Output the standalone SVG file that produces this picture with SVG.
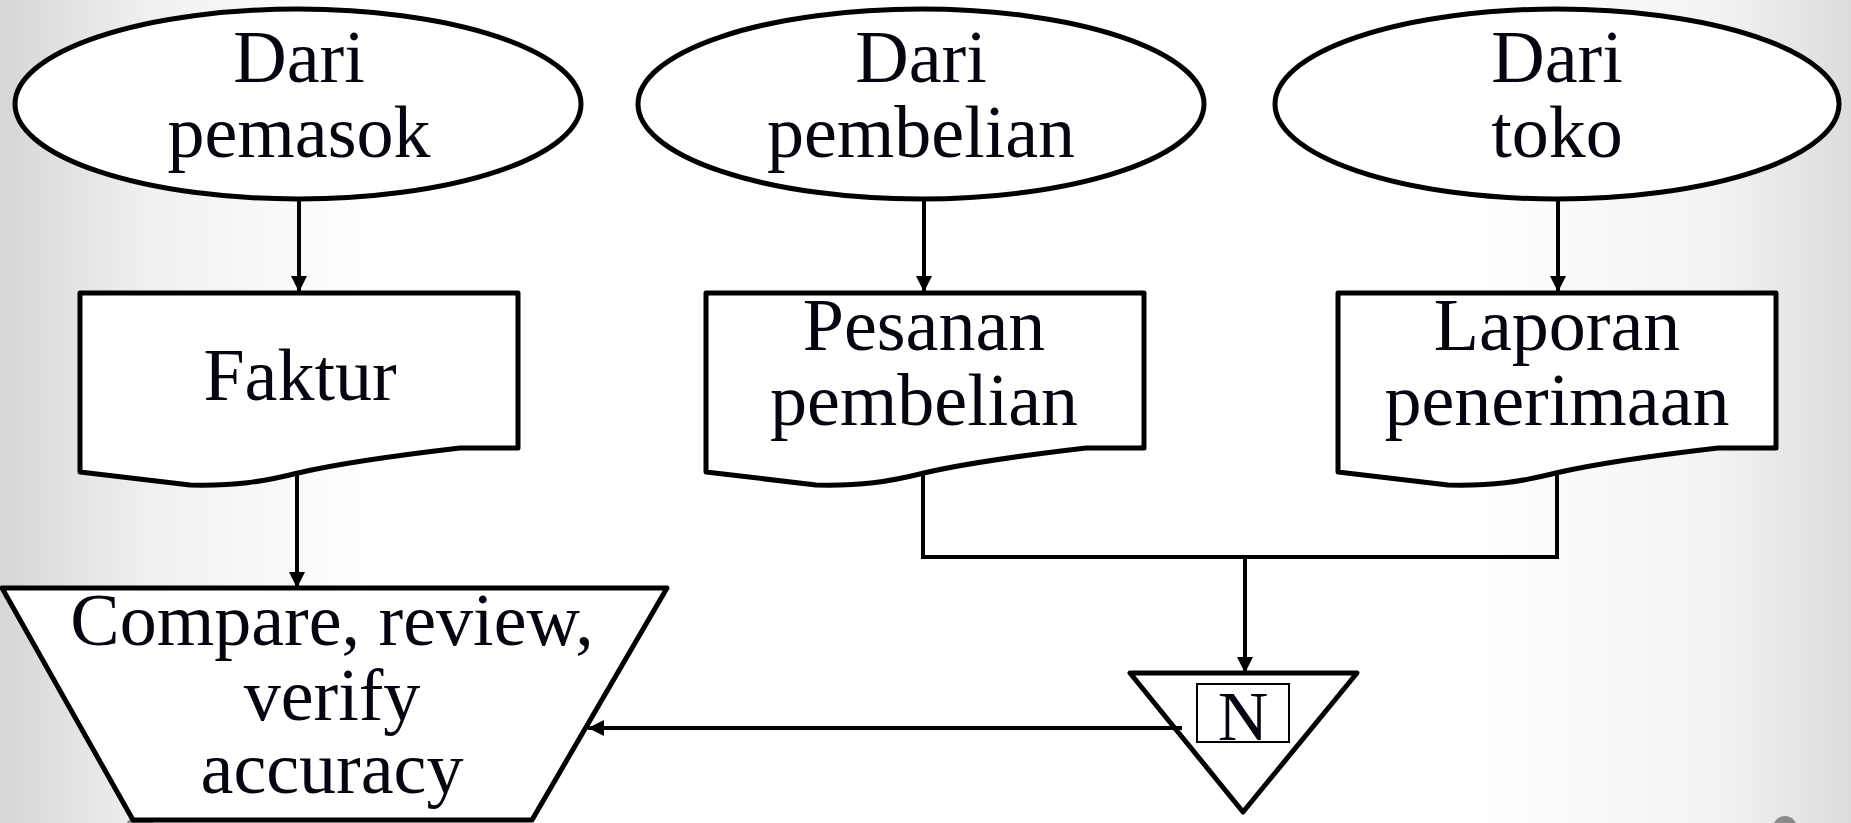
<svg xmlns="http://www.w3.org/2000/svg" width="1851" height="823" viewBox="0 0 1851 823">
<defs>
<linearGradient id="bg" x1="0" y1="0" x2="1" y2="0">
<stop offset="0" stop-color="#d6d6d6"/>
<stop offset="0.08" stop-color="#f0f0f0"/>
<stop offset="0.2" stop-color="#ffffff"/>
<stop offset="0.8" stop-color="#ffffff"/>
<stop offset="0.93" stop-color="#f2f2f2"/>
<stop offset="1" stop-color="#dcdcdc"/>
</linearGradient>
<marker id="arr" markerUnits="userSpaceOnUse" markerWidth="18" markerHeight="18" refX="16" refY="8" orient="auto">
<path d="M0,0 L16,8 L0,16 Z" fill="#000"/>
</marker>
<style>
.shape{fill:#fff;stroke:#000;stroke-width:5;stroke-linejoin:round}
.conn{fill:none;stroke:#000;stroke-width:4}
.lbl{font-family:"Liberation Serif","Times New Roman",serif;font-size:74px;fill:#050510;text-anchor:middle}
</style>
</defs>
<rect width="1851" height="823" fill="url(#bg)"/>
<circle cx="140" cy="830" r="15" fill="#8a8a8a"/>
<circle cx="1785" cy="828" r="12" fill="#8a8a8a"/>

<g id="src-pemasok">
<ellipse class="shape" cx="298" cy="104" rx="283" ry="95"/>
<text class="lbl"><tspan x="299" y="82">Dari</tspan><tspan x="299" y="157">pemasok</tspan></text>
</g>
<g id="src-pembelian">
<ellipse class="shape" cx="921" cy="104" rx="283" ry="95"/>
<text class="lbl"><tspan x="921" y="82">Dari</tspan><tspan x="921" y="157">pembelian</tspan></text>
</g>
<g id="src-toko">
<ellipse class="shape" cx="1557" cy="104" rx="282" ry="95"/>
<text class="lbl"><tspan x="1557" y="82">Dari</tspan><tspan x="1557" y="157">toko</tspan></text>
</g>

<g id="doc-faktur">
<path class="shape" d="M80,293 H518 V448 H460 C400,455 340,463 298,473 C262,482 235,486 190,485 L80,472 Z"/>
<text class="lbl" x="300" y="400">Faktur</text>
</g>
<g id="doc-pesanan">
<path class="shape" d="M706,293 H1144 V448 H1086 C1026,455 966,463 924,473 C888,482 861,486 816,485 L706,472 Z"/>
<text class="lbl"><tspan x="924" y="350">Pesanan</tspan><tspan x="924" y="425">pembelian</tspan></text>
</g>
<g id="doc-laporan">
<path class="shape" d="M1338,293 H1776 V448 H1718 C1658,455 1598,463 1556,473 C1520,482 1493,486 1448,485 L1338,472 Z"/>
<text class="lbl"><tspan x="1557" y="350">Laporan</tspan><tspan x="1557" y="425">penerimaan</tspan></text>
</g>

<g id="process-compare">
<polygon class="shape" points="2,588 667,588 532,820 133,820"/>
<text class="lbl"><tspan x="332" y="645">Compare, review,</tspan><tspan x="332" y="720">verify</tspan><tspan x="332" y="793">accuracy</tspan></text>
</g>

<g id="file-n">
<polygon class="shape" points="1130,673 1357,673 1243,812"/>
<rect x="1197" y="684" width="92" height="58" fill="none" stroke="#000" stroke-width="2"/>
<text class="lbl" x="1243" y="740" style="font-size:70px">N</text>
</g>

<g id="connectors">
<line class="conn" x1="299" y1="199" x2="299" y2="292" marker-end="url(#arr)"/>
<line class="conn" x1="924" y1="199" x2="924" y2="292" marker-end="url(#arr)"/>
<line class="conn" x1="1558" y1="199" x2="1558" y2="292" marker-end="url(#arr)"/>
<line class="conn" x1="297" y1="474" x2="297" y2="588" marker-end="url(#arr)"/>
<polyline class="conn" points="923,474 923,557 1557,557 1557,474"/>
<line class="conn" x1="1245" y1="557" x2="1245" y2="673" marker-end="url(#arr)"/>
<line class="conn" x1="1182" y1="728" x2="588" y2="728" marker-end="url(#arr)"/>
</g>
</svg>
